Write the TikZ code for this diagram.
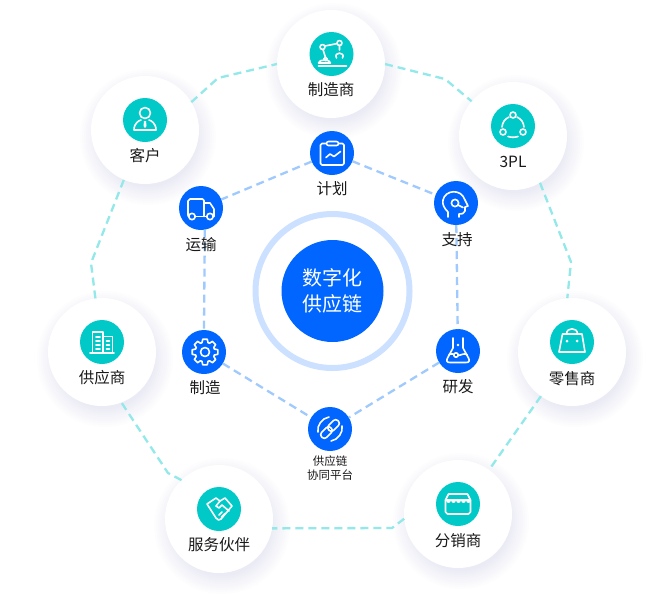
\documentclass[tikz,border=0pt]{standalone}
\usepackage{fontspec}
\setmainfont{Noto Sans CJK SC}
\definecolor{tealfill}{HTML}{00C9C8}
\definecolor{bluefill}{HTML}{0066FF}
\definecolor{ringblue}{HTML}{CCE0FF}
\definecolor{tealdash}{HTML}{93E8E9}
\definecolor{bluedash}{HTML}{A0CAFD}
\definecolor{softshadow}{HTML}{A8B2EC}
\tikzset{
  disc/.style={circle, fill=white, minimum size=108pt, inner sep=0pt, outer sep=0pt},
  tealicon/.style={circle, fill=tealfill, minimum size=44pt, inner sep=0pt, outer sep=0pt},
  blueicon/.style={circle, fill=bluefill, minimum size=44pt, inner sep=0pt, outer sep=0pt},
  caption/.style={font=\fontsize{15.5}{15.5}\selectfont, text=black!90, inner sep=0pt},
  tealline/.style={draw=tealdash, line width=2.3pt, dash pattern=on 8pt off 5pt},
  blueline/.style={draw=bluedash, line width=2.3pt, dash pattern=on 8pt off 5pt},
  glyph/.style={draw=white, line width=1.6pt, line cap=round, line join=round},
  glyphdot/.style={fill=white},
}
\begin{document}
\begin{tikzpicture}[x=1pt, y=-1pt]
  \useasboundingbox (0, 0) rectangle (663, 598);
  \fill[white] (0, 0) rectangle (663, 598);

  % soft shadows under the outer discs
  \foreach \x/\y in {331/64, 513/136, 572/352, 458/514, 219/519, 102/352, 145/130}
    \foreach \r in {50, 52, ..., 68}
      \fill[softshadow, opacity=0.018] (\x + 3, \y + 7) circle (\r);

  \node[disc] (maker) at (331, 64) {};
  \node[disc] (tpl) at (513, 136) {};
  \node[disc] (retail) at (572, 352) {};
  \node[disc] (dist) at (458, 514) {};
  \node[disc] (partner) at (219, 519) {};
  \node[disc] (supply) at (102, 352) {};
  \node[disc] (client) at (145, 130) {};

  \node[tealicon] (makericon) at (331.5, 54) {};
  \node[tealicon] (tplicon) at (513, 126) {};
  \node[tealicon] (retailicon) at (572, 342) {};
  \node[tealicon] (disticon) at (458, 504) {};
  \node[tealicon] (partnericon) at (219, 509) {};
  \node[tealicon] (supplyicon) at (102, 342) {};
  \node[tealicon] (clienticon) at (145, 120) {};

  \coordinate (bendA) at (445, 79);
  \coordinate (bendB) at (571, 262);
  \coordinate (bendC) at (392, 528);
  \coordinate (bendD) at (168, 473);
  \coordinate (bendE) at (91, 263);
  \coordinate (bendF) at (218, 78);

  \draw[tealline] (maker.0) -- (bendA) -- (tpl);
  \draw[tealline] (tpl.-60) -- (bendB) -- (retail.95);
  \draw[tealline] (retail) -- (dist);
  \draw[tealline] (dist.185) -- (bendC) -- (partner.-10);
  \draw[tealline] (partner.134) -- (bendD) -- (supply.-69);
  \draw[tealline] (supply.97) -- (bendE) -- (client.-113);
  \draw[tealline] (client.31) -- (bendF) -- (maker.180);

  % centre
  \node[circle, draw=ringblue, line width=6pt, minimum size=154pt, inner sep=0pt] (ring) at (332.5, 291) {};
  \node[circle, fill=bluefill, minimum size=102pt, inner sep=0pt, align=center, text=white,
    font=\fontsize{20}{26}\selectfont] (core) at (332.5, 291) {\raisebox{-1.5pt}{数字化}\\\raisebox{-1.5pt}{供应链}};

  \node[blueicon] (plan) at (332, 153) {};
  \node[blueicon] (ship) at (201, 208) {};
  \node[blueicon] (help) at (456, 203) {};
  \node[blueicon] (make) at (204, 352) {};
  \node[blueicon] (lab) at (458, 351) {};
  \node[blueicon] (link) at (330, 429) {};

  \draw[blueline] (plan) -- (ship);
  \draw[blueline] (plan) -- (help);
  \draw[blueline] (ship.-80) -- (make.90);
  \draw[blueline] (help) -- (lab);
  \draw[blueline] (lab) -- (link);
  \draw[blueline] (make) -- (link);

  % captions
  \node[caption] (makertext) at (331, 89.5) {制造商};
  \node[caption] (tpltext) at (513, 161.5) {3PL};
  \node[caption] (retailtext) at (572, 378.5) {零售商};
  \node[caption] (disttext) at (458, 540.5) {分销商};
  \node[caption] (partnertext) at (219, 544.5) {服务伙伴};
  \node[caption] (supplytext) at (102, 377.5) {供应商};
  \node[caption] (clienttext) at (145, 155.5) {客户};
  \node[caption] (plantext) at (332, 188.5) {计划};
  \node[caption] (shiptext) at (201, 244.5) {运输};
  \node[caption] (helptext) at (457, 239.5) {支持};
  \node[caption] (maketext) at (205, 387.5) {制造};
  \node[caption] (labtext) at (458, 386.5) {研发};
  \node[caption, align=center, font=\fontsize{11.5}{14}\selectfont] (linktext) at (330, 468.5) {供应链\\协同平台};

  % robot arm
  \begin{scope}[shift={(331.5, 54)}]
    \draw[glyph] (-9, -7) circle (2.5) (8, -11) circle (2.5);
    \draw[glyph] (-6.7, -8) -- (5.6, -10.4) (-8.5, -4.5) -- (-6, 3.5) (8, -8.5) -- (8, -4);
    \draw[glyph] (-6, 5) circle (1.8);
    \draw[glyph] (-13, 9) .. controls (-13, 5) and (-1, 5) .. (-1, 9) -- cycle;
    \draw[glyph] (-13, 12) -- (15, 12);
    \draw[glyph] (5, 4) .. controls (1.5, -2.5) and (14.5, -2.5) .. (11, 4);
  \end{scope}

  % three nodes
  \begin{scope}[shift={(513, 126)}]
    \draw[glyph] (0, -11) circle (3) (-10, 6) circle (3) (10, 6) circle (3);
    \draw[glyph] (-4, -9) .. controls (-8, -7) and (-10.5, -4) .. (-11, 1);
    \draw[glyph] (4, -9) .. controls (8, -7) and (10.5, -4) .. (11, 1);
    \draw[glyph] (-5, 10.5) .. controls (-2, 11.5) and (2, 11.5) .. (5, 10.5);
  \end{scope}

  % shopping bag
  \begin{scope}[shift={(572, 342)}]
    \draw[glyph] (-13, 10) -- (13, 10) -- (10, -8) -- (-9.5, -8) -- cycle;
    \draw[glyph] (-5.5, -8) .. controls (-5.5, -15) and (5.5, -15) .. (5.5, -8);
    \fill[glyphdot] (-5, -1) circle (1.5) (5, -1) circle (1.5);
  \end{scope}

  % store front
  \begin{scope}[shift={(458, 504)}]
    \draw[glyph] (-12.5, -4) -- (-12.5, 8) -- (-10.5, 10) -- (10.5, 10) -- (12.5, 8) -- (12.5, -4);
    \draw[glyph] (-12.5, -4) -- (-9.5, -10) -- (9.5, -10) -- (12.5, -4) -- cycle;
    \foreach \s in {-12.5, -7.5, -2.5, 2.5, 7.5}
      \fill[glyphdot] (\s, -4) .. controls (\s, 0) and (\s + 5, 0) .. (\s + 5, -4) -- cycle;
  \end{scope}

  % handshake
  \begin{scope}[shift={(219, 509)}]
    \draw[glyph] (-12, -5) -- (-3, -11) -- (1, -8) -- (6, -11) -- (13, -3) -- (2, 10) .. controls (0, 12) and (-1, 11) .. (-3, 9) -- cycle;
    \draw[glyph] (1, -8) -- (-3, -3) -- (0, -1) -- (3, -4) -- (10, 2);
    \draw[glyph] (0, 6) -- (3, 3) (2.5, 8) -- (6, 4.5);
  \end{scope}

  % office blocks
  \begin{scope}[shift={(102, 342)}]
    \draw[glyph] (-9.5, 11) -- (-9.5, -10) -- (1, -10) -- (1, 11) (1, -5.5) -- (10.5, -5.5) -- (10.5, 11);
    \draw[glyph] (-12, 11) -- (12, 11);
    \draw[glyph] (-6, -5) -- (-2, -5) (-6, -1) -- (-2, -1) (-6, 3) -- (-2, 3) (-6, 7) -- (-2, 7);
    \draw[glyph] (4.5, -1) -- (7.5, -1) (4.5, 3) -- (7.5, 3) (4.5, 7) -- (7.5, 7);
  \end{scope}

  % person
  \begin{scope}[shift={(145, 120)}]
    \draw[glyph] (0, -7) circle (5.5);
    \draw[glyph] (-11, 10) .. controls (-11, 3) and (-6, 0.5) .. (-4, 0) (4, 0) .. controls (6, 0.5) and (11, 3) .. (11, 10) -- (-11, 10);
    \fill[glyphdot] (-1, 1) -- (1, 1) -- (1.5, 6) -- (0, 8) -- (-1.5, 6) -- cycle;
  \end{scope}

  % clipboard
  \begin{scope}[shift={(332, 153)}]
    \draw[glyph, rounded corners=1.5pt] (-11.5, -9.5) rectangle (12, 12);
    \draw[glyph, fill=bluefill, rounded corners=2pt] (-5.5, -11.5) rectangle (6.5, -7.5);
    \draw[glyph] (-6, 4.5) -- (-2, 1) -- (2, 3.5) -- (8.5, -1.5);
  \end{scope}

  % truck
  \begin{scope}[shift={(201, 208)}]
    \draw[glyph] (-12.5, 8.5) -- (-13, 7) -- (-13, -7) -- (-11, -9) -- (1.5, -9) -- (3, -7.5) -- (3, 8.5);
    \draw[glyph] (3, -5) -- (9, -5) -- (13, 1) -- (13, 8.5);
    \draw[glyph] (-5.5, 8.5) -- (5.5, 8.5);
    \draw[glyph, fill=bluefill] (-9, 8.5) circle (3.2) (9, 8.5) circle (3.2);
  \end{scope}

  % head with lens
  \begin{scope}[shift={(456, 203)}]
    \draw[glyph] (-8, 14) -- (-8, 9) .. controls (-12, 5) and (-14, 1) .. (-13, -3) .. controls (-11, -13) and (5, -15) .. (9, -3) -- (12, 3) -- (9, 4) -- (9, 8) .. controls (8, 11) and (6, 11) .. (3, 11) -- (3, 14);
    \draw[glyph] (-1, 0) circle (3.6);
    \draw[glyph] (2, 2) -- (7, 4.5);
  \end{scope}

  % flask
  \begin{scope}[shift={(458, 351)}]
    \draw[glyph] (-5, -13) -- (-5, -3) -- (-10.5, 7) .. controls (-12, 10) and (-11, 11.5) .. (-8, 11.5) -- (8, 11.5) .. controls (11, 11.5) and (12, 10) .. (10.5, 7) -- (5, -3) -- (5, -13);
    \draw[glyph] (-9, 3.5) .. controls (-4, 1.5) and (-3, 5) .. (0, 4.5) .. controls (4, 4) and (5, 2) .. (9, 3.5);
    \draw[glyph, fill=bluefill] (-2, 4) circle (2.2);
    \fill[glyphdot] (0, -6) circle (1.4);
  \end{scope}

  % gear
  \begin{scope}[shift={(205, 352)}]
    \draw[glyph] (-10:13) \foreach \a in {0, 45, ..., 315} {
      -- (\a - 10:13) -- (\a + 10:13) -- (\a + 18:9.8) -- (\a + 27:9.8)} -- cycle;
    \draw[glyph] (0, 0) circle (4.5);
  \end{scope}

  % chain link
  \begin{scope}[shift={(330, 429)}]
    \draw[glyph, rotate=45, rounded corners=3pt] (-11.5, -3.5) rectangle (1.5, 3.5);
    \draw[glyph, rotate=45, rounded corners=3pt] (-1.5, -3.5) rectangle (11.5, 3.5);
    \draw[glyph] (-12, 3) .. controls (-13.5, -3) and (-8, -11) .. (-1, -12);
    \draw[glyph] (12, -3) .. controls (13.5, 3) and (8, 11) .. (1, 12);
  \end{scope}
\end{tikzpicture}
\end{document}
